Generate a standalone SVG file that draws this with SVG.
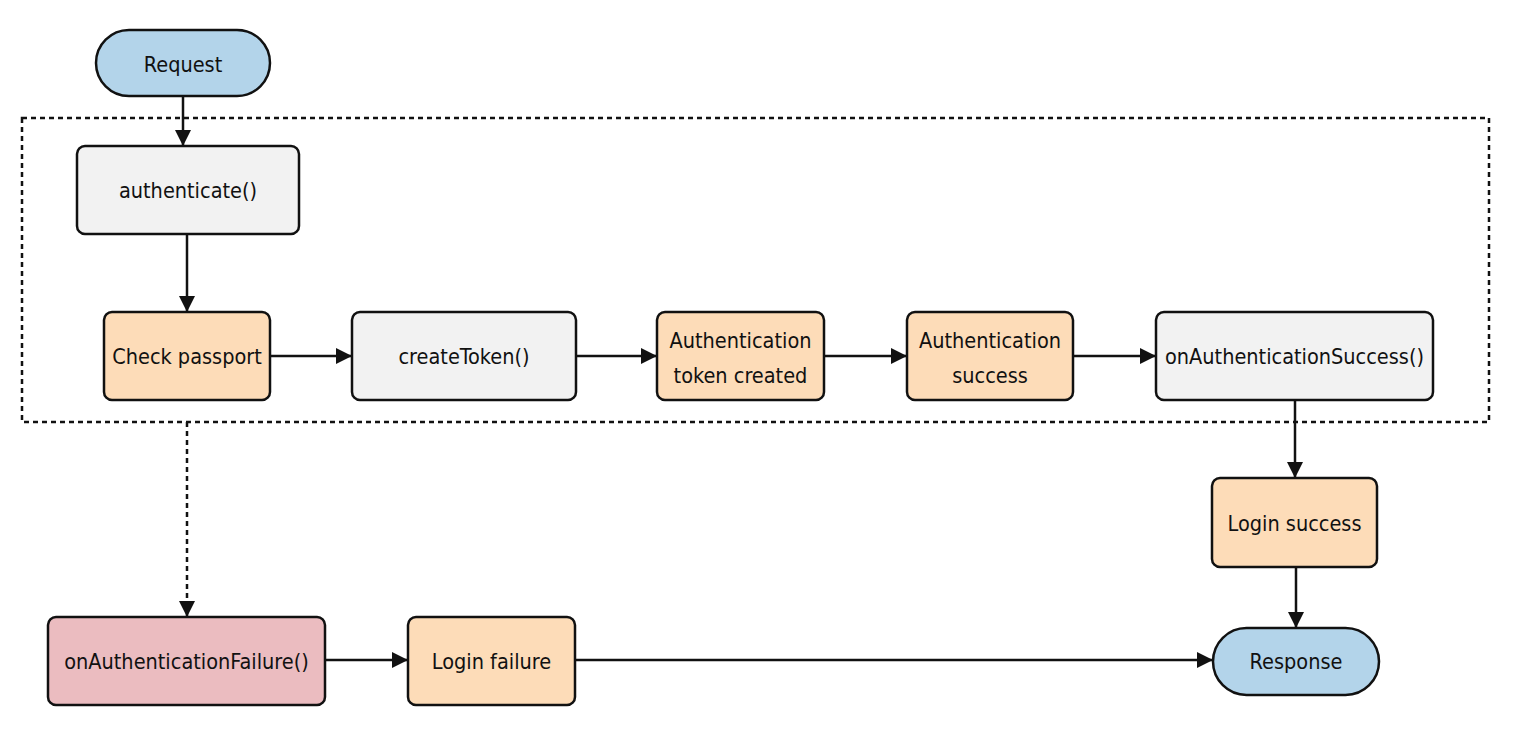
<svg xmlns="http://www.w3.org/2000/svg" width="1519" height="729" viewBox="0 0 1519 729">
<style>
.n{stroke:#111;stroke-width:2.5}
.blue{fill:#b3d4ea}.gray{fill:#f2f2f2}.or{fill:#fddcb8}.pink{fill:#ebbcc0}
text{font-family:"DejaVu Sans Condensed","Liberation Sans Narrow","Liberation Sans",sans-serif;font-stretch:condensed;font-size:21.5px;fill:#111;text-anchor:middle}
.c{fill:none;stroke:#111;stroke-width:2.5}
.d{stroke-dasharray:5 4}
</style>
<defs>
<marker id="a" viewBox="0 0 16 16" refX="16" refY="8" markerWidth="16" markerHeight="16" markerUnits="userSpaceOnUse" orient="auto">
<path d="M0 0L16 8L0 16z" fill="#111"/>
</marker>
</defs>
<rect x="22" y="118" width="1467" height="304" fill="none" stroke="#111" stroke-width="2.5" stroke-dasharray="5 4"/>
<g id="connectors">
<path class="c" d="M183 96V146" marker-end="url(#a)"/>
<path class="c" d="M187 234V312" marker-end="url(#a)"/>
<path class="c" d="M270 356H352" marker-end="url(#a)"/>
<path class="c" d="M576 356H657" marker-end="url(#a)"/>
<path class="c" d="M824 356H907" marker-end="url(#a)"/>
<path class="c" d="M1073 356H1156" marker-end="url(#a)"/>
<path class="c" d="M1295 400V478" marker-end="url(#a)"/>
<path class="c" d="M1296 567V628" marker-end="url(#a)"/>
<path class="c d" d="M187 422V617" marker-end="url(#a)"/>
<path class="c" d="M325 660H408" marker-end="url(#a)"/>
<path class="c" d="M575 660H1213" marker-end="url(#a)"/>
</g>
<g id="request"><rect class="n blue" x="96" y="30" width="174" height="66" rx="33"/><text x="183" y="72">Request</text></g>
<g id="authenticate"><rect class="n gray" x="77" y="146" width="222" height="88" rx="8"/><text x="188" y="198">authenticate()</text></g>
<g id="check"><rect class="n or" x="104" y="312" width="166" height="88" rx="8"/><text x="187" y="364">Check passport</text></g>
<g id="createToken"><rect class="n gray" x="352" y="312" width="224" height="88" rx="8"/><text x="464" y="364">createToken()</text></g>
<g id="tokenCreated"><rect class="n or" x="657" y="312" width="167" height="88" rx="8"/><text x="740.5" y="348">Authentication</text><text x="740.5" y="383">token created</text></g>
<g id="authSuccess"><rect class="n or" x="907" y="312" width="166" height="88" rx="8"/><text x="990" y="348">Authentication</text><text x="990" y="383">success</text></g>
<g id="onAuthSuccess"><rect class="n gray" x="1156" y="312" width="277" height="88" rx="8"/><text x="1294.5" y="364">onAuthenticationSuccess()</text></g>
<g id="loginSuccess"><rect class="n or" x="1212" y="478" width="165" height="89" rx="8"/><text x="1294.5" y="531">Login success</text></g>
<g id="response"><rect class="n blue" x="1213" y="628" width="166" height="67" rx="33.5"/><text x="1296" y="669">Response</text></g>
<g id="onAuthFailure"><rect class="n pink" x="48" y="617" width="277" height="88" rx="8"/><text x="186.5" y="669">onAuthenticationFailure()</text></g>
<g id="loginFailure"><rect class="n or" x="408" y="617" width="167" height="88" rx="8"/><text x="491.5" y="669">Login failure</text></g>
</svg>
